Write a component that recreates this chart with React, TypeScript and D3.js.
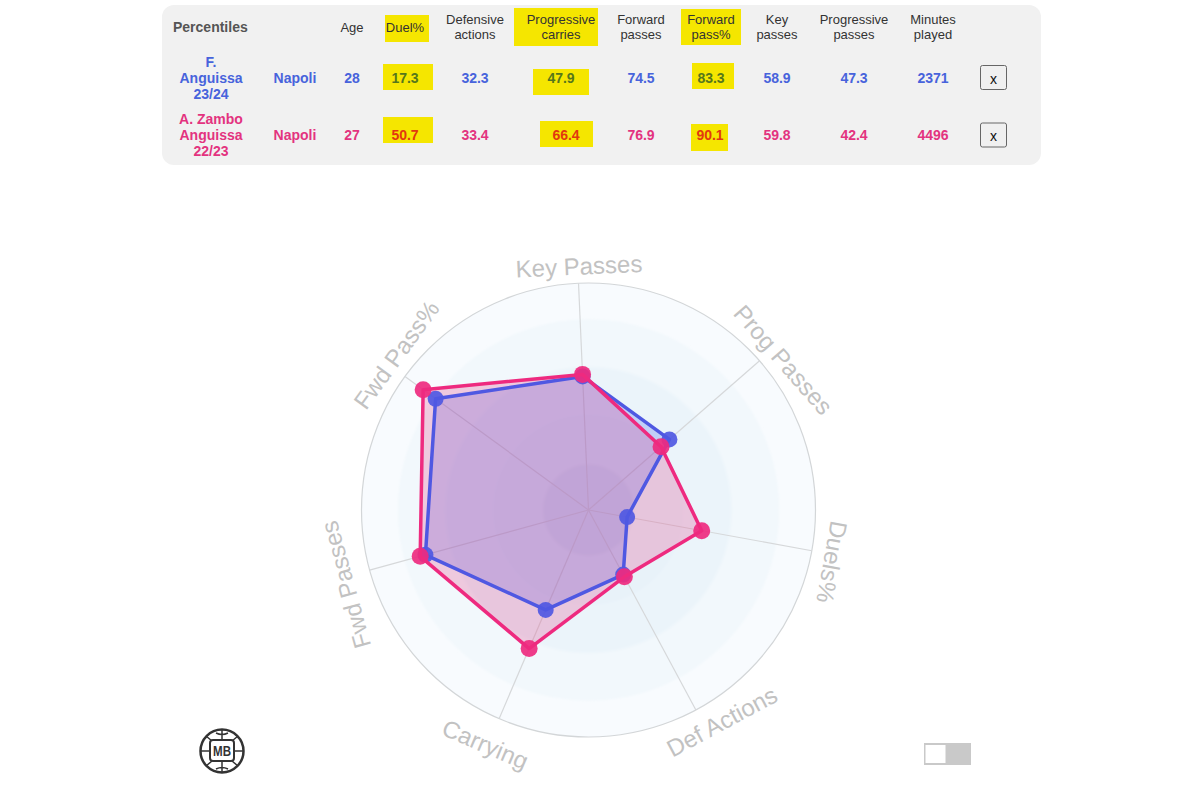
import React, { useEffect, useRef } from 'react';
import * as d3 from 'd3';

const axisLabels = ['Key Passes', 'Prog Passes', 'Duels%', 'Def Actions', 'Carrying', 'Fwd Passes', 'Fwd Pass%'];
const blueValues = [58.9, 47.3, 17.3, 32.3, 47.9, 74.5, 83.3];
const pinkValues = [59.8, 42.4, 50.7, 33.4, 66.4, 76.9, 90.1];
const ringLevels = [84, 63, 42, 20];

const headers = ['Age', 'Duel%', 'Defensive\nactions', 'Progressive\ncarries', 'Forward\npasses', 'Forward\npass%', 'Key\npasses', 'Progressive\npasses', 'Minutes\nplayed'];
const bluePlayer = ['F.', 'Anguissa', '23/24'];
const pinkPlayer = ['A. Zambo', 'Anguissa', '22/23'];
const team = 'Napoli';
const blueRow = ['28', '17.3', '32.3', '47.9', '74.5', '83.3', '58.9', '47.3', '2371'];
const pinkRow = ['27', '50.7', '33.4', '66.4', '76.9', '90.1', '59.8', '42.4', '4496'];
const highlightedColumns = [1, 3, 5];

const columnX = [352, 405, 475, 561, 641, 711, 777, 854, 933];
const blueNudge = [0, 0, 0, 0, 0, 0, 0, 0, 0];
const pinkNudge = [0, 0, 0, 5, 0, -1, 0, 0, 0];

// [x, y, w, h] of the hand drawn highlighter boxes
const highlights = [
  [385, 15, 44, 27],
  [514, 8, 84, 38],
  [681, 9, 60, 36],
  [383, 64, 50, 26],
  [533, 69, 56, 26],
  [692, 63, 42, 26],
  [383, 117, 50, 26],
  [540, 121, 53, 26],
  [691, 124, 37, 27],
];

const BLUE = '#4763dc';
const PINK = '#e3337f';
const BLUE_ON_YELLOW = '#55771c';
const PINK_ON_YELLOW = '#e2380f';

const App: React.FC = () => {
  const ref = useRef<SVGSVGElement | null>(null);

  useEffect(() => {
    if (!ref.current) return;
    const svg = d3.select(ref.current);
    svg.selectAll('*').remove();
    svg.attr('width', 1200).attr('height', 800).attr('viewBox', '0 0 1200 800');
    svg.style('position', 'absolute').style('left', 0).style('top', 0).style('background', '#fff');
    svg.style('font-family', '"Liberation Sans", Arial, sans-serif');

    const defs = svg.append('defs');
    defs.append('filter').attr('id', 'soft').append('feGaussianBlur').attr('stdDeviation', 1.2);

    // Table
    svg.append('rect').attr('x', 162).attr('y', 5).attr('width', 879).attr('height', 160).attr('rx', 12).attr('fill', '#f1f1f1');
    svg.append('g').selectAll('rect').data(highlights).enter().append('rect')
      .attr('x', (d) => d[0]).attr('y', (d) => d[1]).attr('width', (d) => d[2]).attr('height', (d) => d[3])
      .attr('fill', '#f5e600');

    svg.append('text').text('Percentiles').attr('x', 173).attr('y', 32).attr('font-size', 14).attr('font-weight', 700).attr('fill', '#555');

    headers.forEach((h, i) => {
      const lines = h.split('\n');
      lines.forEach((l, j) => {
        svg.append('text').text(l)
          .attr('x', columnX[i])
          .attr('y', lines.length === 1 ? 32 : 24 + j * 15)
          .attr('text-anchor', 'middle').attr('font-size', 13).attr('fill', '#333');
      });
    });

    const drawRow = (name: string[], row: string[], nudge: number[], color: string, onYellow: string, y: number) => {
      name.forEach((l, j) => {
        svg.append('text').text(l).attr('x', 211).attr('y', y + (j - 1) * 16 + 5)
          .attr('text-anchor', 'middle').attr('font-size', 14).attr('font-weight', 700).attr('fill', color);
      });
      svg.append('text').text(team).attr('x', 295).attr('y', y + 5)
        .attr('text-anchor', 'middle').attr('font-size', 14).attr('font-weight', 700).attr('fill', color);
      row.forEach((v, i) => {
        svg.append('text').text(v).attr('x', columnX[i] + nudge[i]).attr('y', y + 5)
          .attr('text-anchor', 'middle').attr('font-size', 14).attr('font-weight', 700)
          .attr('fill', highlightedColumns.includes(i) ? onYellow : color);
      });
      svg.append('rect').attr('x', 980.5).attr('y', y - 12).attr('width', 26).attr('height', 24).attr('rx', 2)
        .attr('fill', '#f0f0f0').attr('stroke', '#666');
      svg.append('text').text('x').attr('x', 993.5).attr('y', y + 6).attr('text-anchor', 'middle').attr('font-size', 14).attr('fill', '#111');
    };
    drawRow(bluePlayer, blueRow, blueNudge, BLUE, BLUE_ON_YELLOW, 77.5);
    drawRow(pinkPlayer, pinkRow, pinkNudge, PINK, PINK_ON_YELLOW, 135);

    // Radar
    const cx = 588.5;
    const cy = 510;
    const radius = 227;
    const r = d3.scaleLinear().domain([0, 100]).range([0, radius]);
    const angle = d3.scalePoint<string>().domain(axisLabels.concat('end')).range([-0.044, 2 * Math.PI - 0.044]);
    const chart = svg.append('g').attr('transform', `translate(${cx},${cy})`);

    chart.append('circle').attr('r', r(100)).attr('fill', '#f8fbfe').attr('stroke', '#d3d6d8').attr('stroke-width', 1.2);
    chart.append('g').attr('filter', 'url(#soft)').selectAll('circle').data(ringLevels).enter().append('circle')
      .attr('r', (d) => r(d))
      .attr('fill', (d, i) => ['#f2f8fc', '#ebf4fa', '#e8f2f9', '#e0eaf3'][i]);

    axisLabels.forEach((a) => {
      const t = angle(a) as number;
      chart.append('line').attr('x1', 0).attr('y1', 0)
        .attr('x2', r(100) * Math.sin(t)).attr('y2', -r(100) * Math.cos(t))
        .attr('stroke', '#d6d8da').attr('stroke-width', 1.2);
    });

    const radial = d3.lineRadial<number>()
      .angle((d, i) => angle(axisLabels[i]) as number)
      .radius((d) => r(d))
      .curve(d3.curveLinearClosed);

    chart.append('path').attr('d', radial(blueValues)).attr('fill', '#3a5cf0').attr('fill-opacity', 0.24);
    chart.append('path').attr('d', radial(pinkValues)).attr('fill', '#e0307f').attr('fill-opacity', 0.23);

    const drawSeries = (vals: number[], color: string, rad: number) => {
      chart.append('path').attr('d', radial(vals)).attr('fill', 'none')
        .attr('stroke', color).attr('stroke-width', 3.5).attr('stroke-linejoin', 'round');
      vals.forEach((v, i) => {
        const t = angle(axisLabels[i]) as number;
        chart.append('circle').attr('cx', r(v) * Math.sin(t)).attr('cy', -r(v) * Math.cos(t)).attr('r', rad)
          .attr('fill', color).attr('fill-opacity', 0.92);
      });
    };
    drawSeries(blueValues, '#4f58e2', 8);
    drawSeries(pinkValues, '#ee2a7f', 8.5);

    // Axis titles, straight text turned along the spoke
    const labelSpec = [
      { off: 0.005, rad: 244, flip: 0 },
      { off: 0.06, rad: 246, flip: 0 },
      { off: 0.03, rad: 249, flip: 0 },
      { off: -0.07, rad: 250, flip: 180 },
      { off: 0.01, rad: 256, flip: 180 },
      { off: -0.03, rad: 254, flip: 360 },
      { off: 0.05, rad: 247, flip: 360 },
    ];
    axisLabels.forEach((a, i) => {
      const spec = labelSpec[i];
      const t = angle(a) as number;
      const rot = (t * 180) / Math.PI - spec.flip;
      const px = spec.rad * Math.sin(t + spec.off);
      const py = -spec.rad * Math.cos(t + spec.off);
      chart.append('text').text(a)
        .attr('transform', `translate(${px},${py}) rotate(${rot})`)
        .attr('text-anchor', 'middle').attr('dominant-baseline', 'central')
        .attr('font-size', 24).attr('fill', '#c2c2c2');
    });

    // Logo
    const logo = svg.append('g').attr('transform', 'translate(222,751)').attr('fill', 'none').attr('stroke', '#333');
    logo.append('circle').attr('r', 21.5).attr('stroke-width', 2.5);
    logo.append('path').attr('d', 'M0,-21V-10M0,10V21M-21,0H-12M12,0H21M-10,-10L-16,-15M10,-10L16,-15M-10,10L-16,15M10,10L16,15M-6,-18Q0,-15 6,-18M-6,18Q0,15 6,18').attr('stroke-width', 1.5);
    logo.append('rect').attr('x', -12).attr('y', -11).attr('width', 24).attr('height', 21).attr('rx', 3).attr('fill', '#fff').attr('stroke-width', 2);
    logo.append('text').text('MB').attr('text-anchor', 'middle').attr('y', 5).attr('font-size', 14).attr('font-weight', 700)
      .attr('textLength', 18).attr('lengthAdjust', 'spacingAndGlyphs').attr('fill', '#333').attr('stroke', 'none');

    // Toggle
    svg.append('rect').attr('x', 924).attr('y', 743).attr('width', 47).attr('height', 22).attr('fill', '#c9c9c9');
    svg.append('rect').attr('x', 925.5).attr('y', 745).attr('width', 20).attr('height', 18).attr('fill', '#fff');
  }, []);

  return <svg ref={ref}></svg>;
};

export default App;
